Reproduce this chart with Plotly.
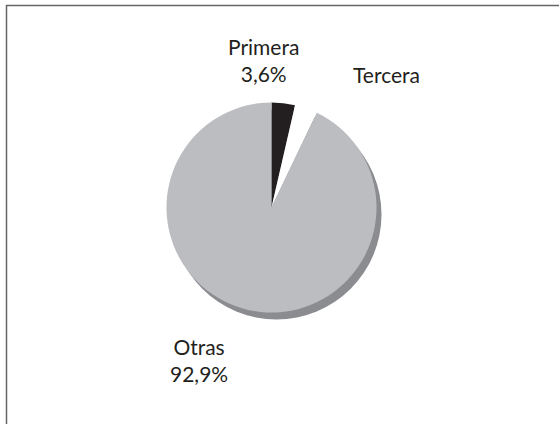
import plotly.graph_objects as go

W, H = 559, 424

# Data
categories = ["Primera", "Tercera", "Otras"]
shares = [3.6, 3.5, 92.9]
label_texts = ["Primera<br>3,6%", "Tercera", "Otras<br>92,9%"]

slice_colors = ["#231f20", "#ffffff", "#bcbdc1"]
shadow_color = "#8b8c90"
font_family = "Lato, 'Noto Sans', sans-serif"


def px_x(x):
    return x / W


def px_y(y):
    return 1 - y / H


cx, cy, r = 271.5, 207.5, 105
dx, dy = 5, 7

fig = go.Figure()

# shadow disc (offset down-right)
fig.add_trace(go.Pie(
    values=[sum(shares)],
    labels=["sombra"],
    marker=dict(colors=[shadow_color], line=dict(width=0)),
    textinfo="none",
    hoverinfo="skip",
    sort=False,
    showlegend=False,
    domain=dict(x=[px_x(cx + dx - r), px_x(cx + dx + r)],
                y=[px_y(cy + dy + r), px_y(cy + dy - r)]),
))

fig.add_trace(go.Pie(
    values=shares,
    labels=categories,
    marker=dict(colors=slice_colors, line=dict(width=0)),
    textinfo="none",
    sort=False,
    direction="clockwise",
    rotation=0,
    showlegend=False,
    domain=dict(x=[px_x(cx - r), px_x(cx + r)],
                y=[px_y(cy + r), px_y(cy - r)]),
))

label_pos = [(263, 60), (386, 74), (199, 360)]
annotations = []
for txt, (lx, ly) in zip(label_texts, label_pos):
    annotations.append(dict(
        text=txt, x=px_x(lx), y=px_y(ly), xref="paper", yref="paper",
        xanchor="center", yanchor="middle", showarrow=False,
        font=dict(family=font_family, size=21, color="#231f20"),
        align="center",
    ))

shapes = [
    dict(type="line", xref="paper", yref="paper",
         x0=px_x(6), x1=px_x(559), y0=px_y(5.5), y1=px_y(5.5),
         line=dict(color="#666666", width=1.5)),
    dict(type="line", xref="paper", yref="paper",
         x0=px_x(6.5), x1=px_x(6.5), y0=px_y(5), y1=px_y(424),
         line=dict(color="#666666", width=1.5)),
]

fig.update_layout(
    width=W, height=H,
    margin=dict(l=0, r=0, t=0, b=0),
    paper_bgcolor="white",
    plot_bgcolor="white",
    annotations=annotations,
    shapes=shapes,
)

fig.write_html("out.html",
               config={"displayModeBar": False},
               post_script="document.body.style.margin='0';document.body.style.overflow='hidden';")
